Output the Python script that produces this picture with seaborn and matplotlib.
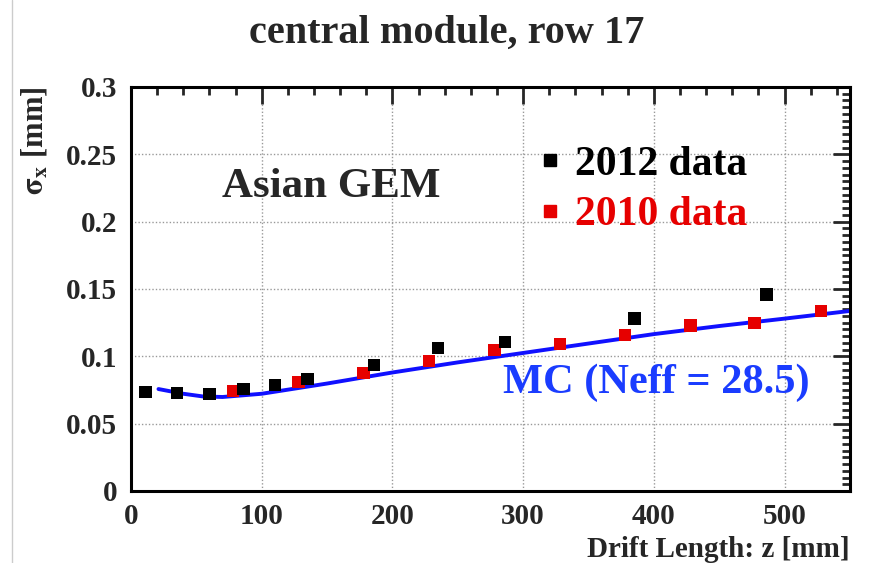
import numpy as np
import pandas as pd
import seaborn as sns
import matplotlib.pyplot as plt
from matplotlib.ticker import MultipleLocator
from matplotlib.lines import Line2D

# Data
z_2012 = [11, 35, 60, 86, 110, 135, 186, 235, 286, 385, 486]
sigma_2012 = [0.0735, 0.0728, 0.0720, 0.0757, 0.0787, 0.0830, 0.0935, 0.1060, 0.1107, 0.1280, 0.1460]

z_2010 = [78, 128, 178, 228, 278, 328, 378, 428, 477, 528]
sigma_2010 = [0.0743, 0.0810, 0.0877, 0.0966, 0.1048, 0.1090, 0.1160, 0.1230, 0.1248, 0.1337]

z_mc = [21, 40, 55, 70, 100, 150, 200, 250, 300, 350, 400, 450, 500, 550]
sigma_mc = [0.0757, 0.0722, 0.0702, 0.0698, 0.0722, 0.0798, 0.0880, 0.0955, 0.1025, 0.1095, 0.1165, 0.1225, 0.1280, 0.1337]

df = pd.concat([
    pd.DataFrame({'z': z_2010, 'sigma': sigma_2010, 'series': '2010 data'}),
    pd.DataFrame({'z': z_2012, 'sigma': sigma_2012, 'series': '2012 data'}),
])
mc = pd.DataFrame({'z': z_mc, 'sigma': sigma_mc})

sns.set_theme(style='white')
plt.rcParams['font.family'] = ['Liberation Serif', 'DejaVu Serif']
plt.rcParams['mathtext.fontset'] = 'stix'

fig = plt.figure(figsize=(8.7, 5.63), dpi=100)
ax = fig.add_axes([0.1506, 0.1279, 0.8264, 0.7176])

sns.lineplot(data=mc, x='z', y='sigma', color='#1010ff', linewidth=2.8, ax=ax, zorder=2)
sns.scatterplot(data=df, x='z', y='sigma', hue='series',
                palette={'2010 data': '#e60000', '2012 data': 'black'},
                marker='s', s=80, linewidth=0, ax=ax, legend=False, zorder=3)

ax.set_xlim(0, 550)
ax.set_ylim(0, 0.3)
ax.xaxis.set_major_locator(MultipleLocator(100))
ax.xaxis.set_minor_locator(MultipleLocator(20))
ax.yaxis.set_minor_locator(MultipleLocator(0.005))
ax.set_yticks([0, 0.05, 0.1, 0.15, 0.2, 0.25, 0.3])
ax.set_yticklabels(['0', '0.05', '0.1', '0.15', '0.2', '0.25', '0.3'])

ax.tick_params(which='both', direction='in', top=True, right=True, width=2,
               labelsize=21)
ax.tick_params(axis='y', pad=10)
ax.tick_params(axis='x', pad=9)
ax.tick_params(which='major', length=12)
ax.tick_params(which='minor', length=6)
for lab in ax.get_xticklabels() + ax.get_yticklabels():
    lab.set_fontweight('bold')
for sp in ax.spines.values():
    sp.set_linewidth(2.2)
    sp.set_color('black')

ax.grid(True, which='major', color='#999999', linestyle=(0, (1, 1.5)), linewidth=1)

ax.set_xlabel('Drift Length: z [mm]', fontsize=21, fontweight='bold', loc='right', labelpad=4)
ax.set_ylabel(r'$\mathbf{\sigma_x}$ [mm]', fontsize=22, fontweight='bold', loc='top', labelpad=12)

fig.text(0.513, 0.94, 'central module, row 17', fontsize=29, fontweight='bold',
         ha='center', va='center')

ax.text(0.127, 0.752, 'Asian GEM', transform=ax.transAxes, fontsize=31,
        fontweight='bold', va='center', ha='left')
ax.text(0.518, 0.269, 'MC (Neff = 28.5)', transform=ax.transAxes, fontsize=30.5,
        fontweight='bold', va='center', ha='left', color='#1a3cff')

handles = [Line2D([], [], marker='s', color='black', linestyle='none', markersize=8.5),
           Line2D([], [], marker='s', color='#e60000', linestyle='none', markersize=8.5)]
leg = ax.legend(handles, ['2012 data', '2010 data'], loc='center left',
                bbox_to_anchor=(0.537, 0.745), frameon=False, borderpad=0,
                handletextpad=0.3, handlelength=0.6, labelspacing=0.3,
                prop={'weight': 'bold', 'size': 30})
leg.get_texts()[0].set_color('black')
leg.get_texts()[1].set_color('#e60000')

fig.add_artist(Line2D([12 / 870, 12 / 870], [0, 1], color='#cccccc', linewidth=1))

fig.savefig('out.png', dpi=100)
